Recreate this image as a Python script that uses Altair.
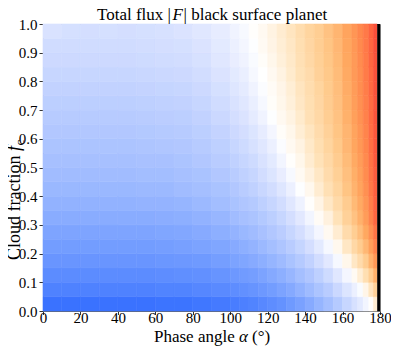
import altair as alt
import pandas as pd

# ---- data -----------------------------------------------------------------
phase_edges = [0, 10, 20, 30, 40, 50, 60, 70, 80, 90, 100, 105, 110, 115, 120,
               125, 130, 135, 140, 145, 150, 155, 160, 165, 168, 171, 174, 176.5, 178.5]
cloud_edges = [0.0, 0.05, 0.1, 0.15, 0.2, 0.25, 0.3, 0.35, 0.4, 0.45, 0.5,
               0.55, 0.6, 0.65, 0.7, 0.75, 0.8, 0.85, 0.9, 0.95, 1.0]
undefined_column = [178.5, 180.0]   # black column (no value)

# signed relative flux level per cloud-fraction row (negative = blue, positive = red)
row_00 = [-1.00,-1.00,-1.00,-1.00,-1.00,-1.00,-0.99,-0.99,-0.97,-0.95,-0.93,-0.91,-0.89,-0.86,-0.83,-0.80,-0.75,-0.70,-0.64,-0.57,-0.50,-0.41,-0.31,-0.22,-0.15,-0.07,0.01,0.14]
row_05 = [-0.90,-0.90,-0.90,-0.90,-0.90,-0.90,-0.89,-0.89,-0.87,-0.85,-0.83,-0.81,-0.79,-0.76,-0.73,-0.69,-0.65,-0.59,-0.53,-0.46,-0.39,-0.29,-0.19,-0.10,-0.03,0.08,0.18,0.30]
row_10 = [-0.84,-0.84,-0.84,-0.84,-0.84,-0.84,-0.83,-0.82,-0.81,-0.79,-0.76,-0.74,-0.72,-0.69,-0.65,-0.61,-0.56,-0.50,-0.44,-0.36,-0.27,-0.17,-0.06,0.04,0.13,0.22,0.32,0.46]
row_15 = [-0.78,-0.78,-0.78,-0.78,-0.78,-0.78,-0.77,-0.76,-0.75,-0.72,-0.69,-0.67,-0.64,-0.61,-0.57,-0.53,-0.47,-0.41,-0.34,-0.25,-0.16,-0.05,0.07,0.17,0.24,0.33,0.45,0.58]
row_20 = [-0.73,-0.73,-0.73,-0.73,-0.73,-0.73,-0.72,-0.71,-0.69,-0.67,-0.64,-0.61,-0.58,-0.54,-0.50,-0.45,-0.39,-0.32,-0.24,-0.15,-0.05,0.06,0.17,0.26,0.33,0.43,0.54,0.68]
row_25 = [-0.68,-0.68,-0.68,-0.68,-0.68,-0.68,-0.67,-0.66,-0.64,-0.61,-0.58,-0.55,-0.52,-0.48,-0.43,-0.38,-0.31,-0.24,-0.15,-0.06,0.05,0.14,0.24,0.32,0.40,0.50,0.61,0.75]
row_30 = [-0.63,-0.63,-0.63,-0.63,-0.63,-0.63,-0.62,-0.61,-0.59,-0.56,-0.52,-0.49,-0.46,-0.42,-0.37,-0.31,-0.24,-0.16,-0.07,0.03,0.11,0.20,0.30,0.38,0.46,0.56,0.68,0.81]
row_35 = [-0.59,-0.59,-0.59,-0.59,-0.59,-0.58,-0.58,-0.57,-0.54,-0.51,-0.47,-0.44,-0.41,-0.36,-0.31,-0.25,-0.17,-0.09,0.01,0.09,0.17,0.25,0.33,0.42,0.49,0.59,0.70,0.83]
row_40 = [-0.55,-0.55,-0.55,-0.55,-0.55,-0.54,-0.54,-0.52,-0.50,-0.47,-0.43,-0.39,-0.35,-0.30,-0.25,-0.18,-0.10,-0.01,0.06,0.14,0.21,0.28,0.37,0.45,0.52,0.62,0.73,0.84]
row_45 = [-0.52,-0.52,-0.52,-0.52,-0.52,-0.51,-0.51,-0.49,-0.47,-0.43,-0.39,-0.35,-0.31,-0.25,-0.19,-0.12,-0.04,0.04,0.11,0.17,0.24,0.31,0.39,0.47,0.54,0.64,0.75,0.85]
row_50 = [-0.49,-0.49,-0.49,-0.49,-0.49,-0.48,-0.48,-0.46,-0.43,-0.39,-0.35,-0.31,-0.27,-0.21,-0.15,-0.07,0.01,0.07,0.14,0.20,0.26,0.33,0.41,0.49,0.56,0.65,0.76,0.86]
row_55 = [-0.46,-0.46,-0.46,-0.46,-0.46,-0.45,-0.44,-0.43,-0.40,-0.36,-0.31,-0.27,-0.22,-0.17,-0.10,-0.02,0.05,0.10,0.16,0.22,0.28,0.35,0.43,0.51,0.58,0.67,0.77,0.87]
row_60 = [-0.43,-0.43,-0.43,-0.43,-0.43,-0.42,-0.41,-0.40,-0.37,-0.33,-0.28,-0.24,-0.19,-0.13,-0.06,0.02,0.07,0.13,0.18,0.24,0.30,0.37,0.44,0.52,0.59,0.68,0.78,0.87]
row_65 = [-0.40,-0.40,-0.40,-0.40,-0.40,-0.39,-0.38,-0.37,-0.34,-0.29,-0.24,-0.20,-0.14,-0.08,-0.01,0.05,0.10,0.15,0.21,0.26,0.32,0.38,0.46,0.54,0.61,0.69,0.79,0.88]
row_70 = [-0.37,-0.37,-0.37,-0.37,-0.37,-0.36,-0.35,-0.34,-0.31,-0.26,-0.21,-0.17,-0.11,-0.05,0.02,0.07,0.12,0.17,0.22,0.27,0.33,0.39,0.47,0.55,0.62,0.70,0.79,0.88]
row_75 = [-0.34,-0.34,-0.34,-0.34,-0.34,-0.33,-0.32,-0.31,-0.28,-0.23,-0.18,-0.14,-0.08,-0.02,0.03,0.08,0.13,0.18,0.23,0.28,0.34,0.40,0.48,0.56,0.63,0.71,0.80,0.89]
row_80 = [-0.31,-0.31,-0.31,-0.31,-0.31,-0.30,-0.29,-0.28,-0.25,-0.20,-0.15,-0.11,-0.05,0.00,0.05,0.10,0.15,0.20,0.24,0.30,0.35,0.41,0.49,0.57,0.63,0.72,0.80,0.89]
row_85 = [-0.28,-0.28,-0.28,-0.28,-0.28,-0.27,-0.26,-0.25,-0.22,-0.17,-0.12,-0.08,-0.03,0.02,0.07,0.12,0.16,0.21,0.26,0.31,0.36,0.42,0.50,0.57,0.64,0.72,0.81,0.89]
row_90 = [-0.26,-0.26,-0.26,-0.26,-0.26,-0.25,-0.24,-0.23,-0.20,-0.15,-0.10,-0.06,-0.01,0.04,0.09,0.13,0.17,0.22,0.27,0.32,0.37,0.43,0.51,0.58,0.65,0.73,0.81,0.90]
row_95 = [-0.21,-0.23,-0.24,-0.23,-0.24,-0.23,-0.22,-0.20,-0.17,-0.13,-0.08,-0.04,0.01,0.05,0.10,0.14,0.18,0.23,0.28,0.32,0.38,0.44,0.52,0.59,0.66,0.73,0.82,0.90]

rows = [row_00, row_05, row_10, row_15, row_20, row_25, row_30, row_35, row_40, row_45,
        row_50, row_55, row_60, row_65, row_70, row_75, row_80, row_85, row_90, row_95]

phase_ticks = [0, 20, 40, 60, 80, 100, 120, 140, 160, 180]
cloud_ticks = [0.0, 0.1, 0.2, 0.3, 0.4, 0.5, 0.6, 0.7, 0.8, 0.9, 1.0]

color_stops = [-1.0, -0.75, -0.5, -0.25, -0.1, 0.0, 0.1, 0.2, 0.35, 0.5, 0.65, 0.8, 0.9, 1.0]
color_range = ["#3a72ff", "#6f9aff", "#a5bfff", "#d2ddff", "#ecf0ff", "#ffffff", "#fff3e2",
               "#ffe2b8", "#ffc98a", "#ffa860", "#ff8a4e", "#ff6a42", "#f9503a", "#ee3a2e"]

# ---- build table ---------------------------------------------------------------
records = []
for i, row in enumerate(rows):
    for j, v in enumerate(row):
        records.append({"a0": phase_edges[j], "a1": phase_edges[j + 1],
                        "f0": cloud_edges[i], "f1": cloud_edges[i + 1], "v": v})
df = pd.DataFrame(records)
nan_df = pd.DataFrame({"a0": [undefined_column[0]], "a1": [undefined_column[1]],
                       "f0": [cloud_edges[0]], "f1": [cloud_edges[-1]]})

FONT = "Liberation Serif"
xscale = alt.Scale(domain=[0, 180], nice=False, zero=False)
yscale = alt.Scale(domain=[0, 1], nice=False, zero=False)
cscale = alt.Scale(domain=color_stops, range=color_range, interpolate="rgb", clamp=True)

xaxis = alt.Axis(values=phase_ticks, title=None, grid=False, labelFont=FONT, labelFontSize=15,
                 labelColor="black", tickColor="#333", tickSize=3.5, domainColor="#666",
                 labelPadding=-4, labelFlush=False, labelAngle=0)
yaxis = alt.Axis(values=cloud_ticks, format=".1f", title=None, grid=False, labelFont=FONT,
                 labelFontSize=15, labelColor="black", tickColor="#333", tickSize=4,
                 domainColor="#666", labelPadding=2, labelFlush=False)

heat = alt.Chart(df).mark_rect(strokeWidth=0.6).encode(
    x=alt.X("a0:Q", scale=xscale, axis=xaxis),
    x2="a1:Q",
    y=alt.Y("f0:Q", scale=yscale, axis=yaxis),
    y2="f1:Q",
    color=alt.Color("v:Q", scale=cscale, legend=None),
    stroke=alt.Stroke("v:Q", scale=cscale, legend=None),
)

black = alt.Chart(nan_df).mark_rect(color="black").encode(
    x=alt.X("a0:Q", scale=xscale, axis=xaxis),
    x2="a1:Q",
    y=alt.Y("f0:Q", scale=yscale, axis=yaxis),
    y2="f1:Q",
)


def txt(s, x, y, size=17, italic=False, angle=0):
    return alt.Chart(pd.DataFrame({"t": [s]})).mark_text(
        align="left", baseline="alphabetic", font=FONT, fontSize=size,
        fontStyle="italic" if italic else "normal", color="black", angle=angle,
    ).encode(x=alt.value(x), y=alt.value(y), text="t:N")


# title pieces
t1 = txt("Total flux |", 54.0, -4.0)
t2 = txt("F", 129.4, -4.0, italic=True)
t3 = txt("| black surface planet", 140.6, -4.0)
# x-axis title pieces
x1 = txt("Phase angle", 111.0, 317.5)
x2 = txt("\u03b1", 196.0, 317.5, italic=True)
x3 = txt("(\u00b0)", 209.0, 317.5)
# y-axis title pieces (rotated, reading upwards)
y1 = txt("Cloud fraction", -23.0, 236.0, size=18, angle=270)
y2 = txt("f", -23.0, 127.0, size=18, italic=True, angle=270)
y3 = txt("c", -19.5, 121.4, size=13, angle=270)

chart = alt.layer(heat, black, t1, t2, t3, x1, x2, x3, y1, y2, y3).properties(
    width=337, height=287,
    padding={"left": 35, "top": 16, "right": 11, "bottom": 37},
    autosize=alt.AutoSizeParams(type="none"),
).configure_view(
    stroke="#777", strokeWidth=1
).configure_axis(
    labelFont=FONT, labelFontSize=15, labelColor="black"
)

chart.save("out.html", embed_options={"renderer": "svg", "actions": False})
